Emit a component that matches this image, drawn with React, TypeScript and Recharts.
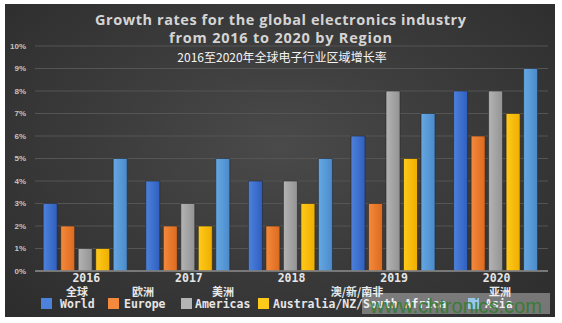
import React from 'react';
import { BarChart, Bar, XAxis, YAxis, CartesianGrid } from 'recharts';

const years = ['2016', '2017', '2018', '2019', '2020'];
const world = [3, 4, 4, 6, 8];
const europe = [2, 2, 2, 3, 6];
const americas = [1, 3, 4, 8, 8];
const australia = [1, 2, 3, 5, 7];
const asia = [5, 5, 5, 7, 9];
const yTicks = [0, 1, 2, 3, 4, 5, 6, 7, 8, 9, 10];

const seriesKeys = ['world', 'europe', 'americas', 'australia', 'asia'];
const seriesNames = ['World', 'Europe', 'Americas', 'Australia/NZ/South Africa', 'Asia'];
const seriesCn = ['全球', '欧洲', '美洲', '澳/新/南非', '亚洲'];
const titleLine1 = 'Growth rates for the global electronics industry';
const titleLine2 = 'from 2016 to 2020 by Region';
const titleCn = '2016至2020年全球电子行业区域增长率';
const watermark = 'www.chtronics.com';

const colors = [
  ['#4d82dc', '#2f5fbf'],
  ['#f58a3c', '#dc6a1e'],
  ['#b4b4b4', '#939393'],
  ['#ffca1a', '#efae00'],
  ['#66a8e2', '#4a8acb'],
];

// layout (pixel positions of legend pieces)
const legendSquareX = [41, 108, 181, 258, 468];
const legendTextX = [60, 124, 195, 273, 485];
const legendCnX = [77, 143, 223, 357, 500];

const data = years.map((y, i) => ({
  year: y,
  world: world[i],
  europe: europe[i],
  americas: americas[i],
  australia: australia[i],
  asia: asia[i],
}));

export default function App() {
  return (
    <div style={{ position: 'absolute', left: 0, top: 0, width: 562, height: 323, background: '#ffffff', overflow: 'hidden' }}>
      <div
        style={{
          position: 'absolute',
          left: 5,
          top: 4,
          width: 550,
          height: 313,
          background: 'radial-gradient(ellipse at 50% 45%, #4a4a4a 0%, #3c3c3c 45%, #2c2c2c 100%)',
        }}
      />
      <div style={{ position: 'absolute', left: 0, top: 0 }}>
        <BarChart
          width={562}
          height={323}
          data={data}
          margin={{ top: 46, right: 14, bottom: 32, left: 0 }}
          barCategoryGap="8%"
          barGap={3.5}
        >
          <defs>
            {colors.map((c, i) => (
              <linearGradient key={i} id={`g${i}`} x1="0" y1="0" x2="1" y2="0">
                <stop offset="0%" stopColor={c[0]} />
                <stop offset="100%" stopColor={c[1]} />
              </linearGradient>
            ))}
          </defs>
          <CartesianGrid vertical={false} stroke="#555555" strokeWidth={1} />
          <XAxis
            dataKey="year"
            height={20}
            tickLine={false}
            tickSize={0}
            tickMargin={3}
            axisLine={{ stroke: '#8a8a8a', strokeWidth: 1.5 }}
            tick={{ fill: '#e6e6e6', fontSize: 11.5, fontWeight: 'bold', fontFamily: 'DejaVu Sans Mono' }}
          />
          <YAxis
            width={35}
            domain={[0, 10]}
            ticks={yTicks}
            interval={0}
            tickFormatter={(v: number) => `${v}%`}
            axisLine={false}
            tickLine={false}
            tickSize={0}
            tickMargin={9}
            tick={{ fill: '#c4c4c4', fontSize: 8, fontWeight: 'bold', fontFamily: 'Liberation Sans' }}
          />
          {seriesKeys.map((k, i) => (
            <Bar key={k} dataKey={k} name={seriesNames[i]} fill={`url(#g${i})`} stroke="#262626" strokeWidth={0.6} isAnimationActive={false} />
          ))}
        </BarChart>
      </div>
      <svg width={562} height={323} style={{ position: 'absolute', left: 0, top: 0, pointerEvents: 'none' }}>
        <text x={280.5} y={25} textAnchor="middle" fill="#d4d4d4" fontSize={14.5} fontWeight="bold" fontFamily="Open Sans" textLength={371} lengthAdjust="spacing">
          {titleLine1}
        </text>
        <text x={280.5} y={43} textAnchor="middle" fill="#d4d4d4" fontSize={14.5} fontWeight="bold" fontFamily="Open Sans" textLength={223} lengthAdjust="spacing">
          {titleLine2}
        </text>
        <text x={282} y={61.5} textAnchor="middle" fill="#f4f4f4" fontSize={12} fontFamily="Noto Sans CJK SC">
          {titleCn}
        </text>
        {seriesNames.map((n, i) => (
          <g key={n}>
            <text x={legendCnX[i]} y={296} textAnchor="middle" fill="#e8e8e8" fontSize={11} fontWeight="bold" fontFamily="Noto Sans CJK SC">
              {seriesCn[i]}
            </text>
            <rect x={legendSquareX[i]} y={298} width={11} height={11} fill={colors[i][0]} />
            <text x={legendTextX[i]} y={307.5} fill="#e6e6e6" fontSize={11.5} fontWeight="bold" fontFamily="DejaVu Sans Mono">
              {n}
            </text>
          </g>
        ))}
        <rect x={362} y={293} width={188} height={21} fill="rgba(255,255,255,0.35)" />
        <text x={370} y={313} fill="#2f7d2c" fillOpacity={0.9} fontSize={21} fontFamily="Liberation Sans" textLength={172} lengthAdjust="spacingAndGlyphs">
          {watermark}
        </text>
      </svg>
    </div>
  );
}
